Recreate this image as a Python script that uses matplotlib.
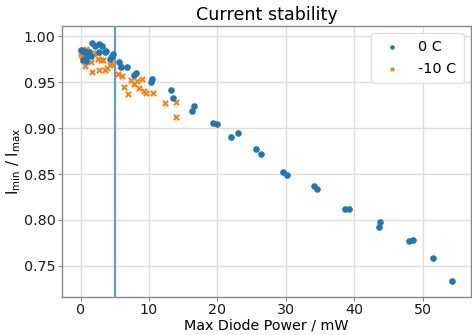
import matplotlib
matplotlib.use("Agg")
import matplotlib.pyplot as plt

# 0 C series
power_0C = [1.66, 2.14, 2.62, 3.12, 0.10, 0.39, 0.79, 1.17, 2.62, 3.50, 3.70, 1.52, 0.93,
            0.79, 0.29, 4.29, 4.77, 4.66, 5.54, 5.93, 6.76, 7.87, 8.08, 10.41, 10.31,
            13.22, 13.51, 16.33, 16.62, 19.34, 19.93, 22.01, 22.99, 25.61, 26.38, 29.55,
            30.17, 34.07, 34.55, 38.69, 39.27, 43.83, 43.69, 48.02, 48.60, 51.56, 54.37]
ratio_0C = [0.9933, 0.9890, 0.9919, 0.9890, 0.9854, 0.9843, 0.9835, 0.9829, 0.9829, 0.9829,
            0.9846, 0.9781, 0.9789, 0.9732, 0.9746, 0.9753, 0.9807, 0.9789, 0.9716, 0.9667,
            0.9667, 0.9583, 0.9602, 0.9537, 0.9508, 0.9413, 0.9334, 0.9186, 0.9240, 0.9053,
            0.9050, 0.8905, 0.8948, 0.8768, 0.8718, 0.8520, 0.8494, 0.8368, 0.8342, 0.8119,
            0.8119, 0.7974, 0.7927, 0.7773, 0.7776, 0.7589, 0.7335]

# -10 C series
power_m10C = [0.79, 0.98, 1.27, 0.00, 0.29, 0.39, 0.58, 1.46, 1.66, 2.04, 2.33, 2.54, 2.92,
              3.21, 2.62, 3.50, 3.79, 4.29, 4.66, 5.45, 5.83, 6.12, 6.41, 6.91, 7.39, 7.87,
              8.27, 8.56, 9.04, 9.33, 9.62, 10.60, 12.35, 13.91, 13.91, 0.10, 0.20]
ratio_m10C = [0.9861, 0.9846, 0.9829, 0.9803, 0.9775, 0.9738, 0.9681, 0.9716, 0.9608, 0.9818,
              0.9818, 0.9753, 0.9738, 0.9738, 0.9630, 0.9630, 0.9656, 0.9688, 0.9695, 0.9594,
              0.9673, 0.9565, 0.9450, 0.9370, 0.9522, 0.9478, 0.9515, 0.9443, 0.9537, 0.9407,
              0.9385, 0.9378, 0.9269, 0.9283, 0.9118, 0.9830, 0.9790]

threshold_power = 5.0
labels = ["0 C", "-10 C"]

plt.rcParams['font.family'] = ['DejaVu Sans']
fig = plt.figure(figsize=(4.72, 3.35), dpi=100)
ax = fig.add_axes([0.131, 0.1134, 0.867, 0.810])

ax.grid(True, color='#dddddd', lw=1.0, zorder=0)
ax.set_axisbelow(True)
ax.axvline(threshold_power, color='#5a9fd4', lw=1.5, zorder=1)
ax.scatter(power_0C, ratio_0C, s=14, color='C0', marker='o', label=labels[0], zorder=3)
ax.scatter(power_m10C, ratio_m10C, s=14, color='C1', marker='x', linewidths=1.5,
           label=labels[1], zorder=2)

ax.set_xlim(-2.75, 57.1)
ax.set_ylim(0.716, 1.0117)
ax.set_yticks([0.75, 0.80, 0.85, 0.90, 0.95, 1.00])
ax.set_xticks([0, 10, 20, 30, 40, 50])

for sp in ax.spines.values():
    sp.set_color('#888888')
    sp.set_linewidth(1.0)
ax.tick_params(colors='#888888', labelcolor='#1a1a1a', labelsize=10.3, length=3, pad=1.5)

ax.set_title("Current stability", fontsize=12.6, pad=4)
ax.set_xlabel("Max Diode Power / mW", fontsize=10.3)
ax.set_ylabel(r"$\mathregular{I_{min}}$ / $\mathregular{I_{max}}$", fontsize=10.6)
ax.xaxis.set_label_coords(0.5, -0.0795)
ax.yaxis.set_label_coords(-0.0953, 0.5)

ax.legend(loc='upper right', fontsize=10.4, markerscale=0.6, framealpha=0.9,
          edgecolor='#dddddd', borderpad=0.5, labelspacing=0.55)

fig.savefig("out.png", dpi=100)
